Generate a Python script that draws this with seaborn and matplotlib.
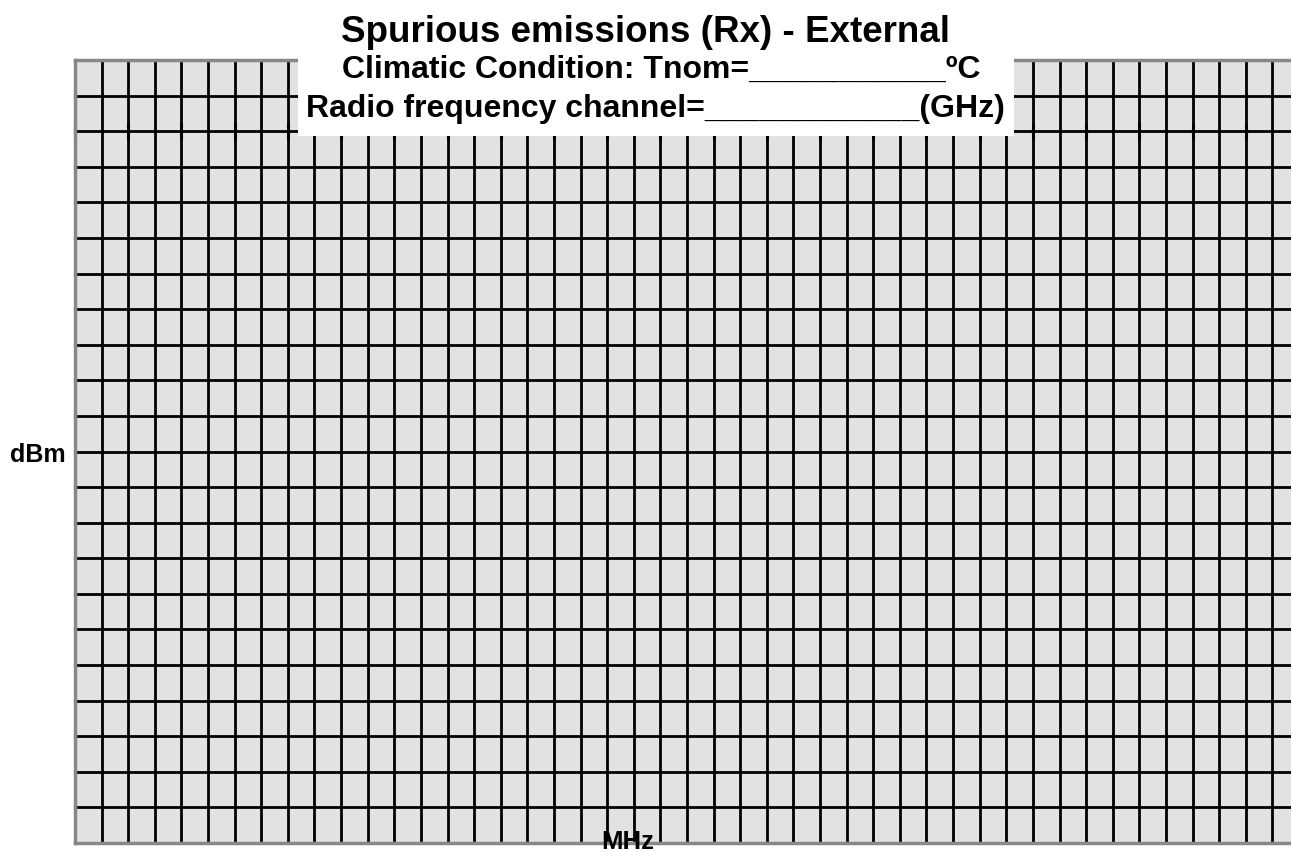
import matplotlib
matplotlib.use("Agg")
import matplotlib.pyplot as plt
from matplotlib.patches import Rectangle
import seaborn as sns

# chart texts
title = "Spurious emissions (Rx) - External"
subtitle_1 = "Climatic Condition: Tnom=___________ºC"
subtitle_2 = "Radio frequency channel=____________(GHz)"
x_label = "MHz"
y_label = "dBm"

# blank grid form: divisions on each axis
x_divisions = list(range(1, 46))
y_divisions = list(range(1, 22))
x_axis_ticks = list(range(0, 46, 2))
x_axis_level = 20  # value where the horizontal axis crosses
x_max = 45.7
y_max = 22

sns.set_style("white")
plt.rcParams['font.family'] = ['Liberation Sans', 'DejaVu Sans']
plt.rcParams['text.color'] = 'black'

W, H = 1291, 852
fig = plt.figure(figsize=(W / 100, H / 100), dpi=100)
ax = fig.add_axes([75 / W, 1 - 843 / H, 1 - 75 / W, 783 / H])
ax.set_facecolor("#e2e2e2")

ax.set_xlim(0, x_max)
ax.set_ylim(0, y_max)
ax.set_xticks(x_divisions)
ax.set_yticks(y_divisions)
ax.set_xticklabels([])
ax.set_yticklabels([])
ax.tick_params(length=0)
ax.grid(True, color="black", linewidth=2.0)

for side in ["left", "top", "bottom"]:
    ax.spines[side].set_color("#888888")
    ax.spines[side].set_linewidth(2.5)
ax.spines["right"].set_visible(False)

# horizontal axis crossing inside the plot, with its tick marks
sec = ax.secondary_xaxis(x_axis_level / y_max)
sec.set_xticks(x_axis_ticks)
sec.set_xticklabels([])
sec.tick_params(direction="inout", length=12, width=2.2, color="black")
sec.spines["bottom"].set_visible(False)
sec.spines["top"].set_visible(False)

# titles
fig.text(0.5 * (339 + 952) / W, 1 - 42 / H, title, ha="center", va="baseline",
         fontsize=26.5, fontweight="bold")
fig.patches.append(Rectangle((298 / W, 1 - 136 / H), 716 / W, 86 / H,
                             transform=fig.transFigure, facecolor="white",
                             edgecolor="none", zorder=2))
fig.text(0.5 * (342 + 980) / W, 1 - 78 / H, subtitle_1, ha="center", va="baseline",
         fontsize=23, fontweight="bold", zorder=3)
fig.text(0.5 * (307 + 1004) / W, 1 - 117 / H, subtitle_2, ha="center", va="baseline",
         fontsize=23, fontweight="bold", zorder=3)

# axis labels
fig.text(38 / W, 1 - 462 / H, y_label, ha="center", va="baseline",
         fontsize=18, fontweight="bold")
fig.text(628 / W, 1 - 849 / H, x_label, ha="center", va="baseline",
         fontsize=18.5, fontweight="bold")

fig.savefig("out.png", dpi=100)
